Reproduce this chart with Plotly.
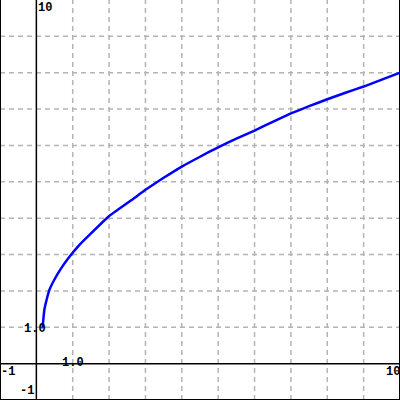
import plotly.graph_objects as go

# Values
curve_x = [0.17, 0.19, 0.22, 0.28, 0.36, 0.49, 0.68, 0.91, 1.18, 1.46, 1.98, 2.62, 3.0, 3.5, 4.0, 4.5, 5.0, 5.5, 6.0, 6.5, 7.0, 7.5, 8.0, 8.5, 9.0, 9.5, 10.0]
curve_y = [1.0, 1.2, 1.48, 1.75, 2.03, 2.30, 2.62, 2.94, 3.26, 3.54, 4.04, 4.5, 4.78, 5.11, 5.42, 5.69, 5.95, 6.19, 6.41, 6.65, 6.88, 7.08, 7.27, 7.45, 7.62, 7.81, 8.0]

x_range = [-1, 10]
y_range = [-1, 10]
grid_vals = [1, 2, 3, 4, 5, 6, 7, 8, 9]

font = dict(family="Liberation Mono", size=12, color="black")

fig = go.Figure()
fig.add_trace(go.Scatter(x=curve_x, y=curve_y, mode="lines",
                         line=dict(color="#0000ff", width=2.5, shape="spline", smoothing=0.3),
                         hoverinfo="skip"))

shapes = []
for v in grid_vals:
    shapes.append(dict(type="line", xref="x", yref="paper", x0=v, x1=v, y0=0, y1=1,
                       line=dict(color="#b4b4b4", width=1.5, dash="5px,4px"), layer="below"))
    shapes.append(dict(type="line", xref="paper", yref="y", x0=0, x1=1, y0=v, y1=v,
                       line=dict(color="#b4b4b4", width=1.5, dash="5px,4px"), layer="below"))
# axes
shapes.append(dict(type="line", xref="x", yref="paper", x0=0, x1=0, y0=0, y1=1,
                   line=dict(color="black", width=1.5), layer="below"))
shapes.append(dict(type="line", xref="paper", yref="y", x0=0, x1=1, y0=0, y1=0,
                   line=dict(color="black", width=1.5), layer="below"))
# frame (left, right, bottom)
for sx in [0, 1]:
    shapes.append(dict(type="line", xref="paper", yref="paper", x0=sx, x1=sx, y0=0, y1=1,
                       line=dict(color="black", width=2)))
shapes.append(dict(type="line", xref="paper", yref="paper", x0=0, x1=1, y0=0, y1=0,
                   line=dict(color="black", width=2)))

annotations = [
    dict(x=0, y=10, text="<b>10</b>", xanchor="left", yanchor="top", xshift=1, yshift=0),
    dict(x=-1, y=0, text="<b>-1</b>", xanchor="left", yanchor="top", xshift=0, yshift=0),
    dict(x=0, y=-1, text="<b>-1</b>", xanchor="right", yanchor="bottom", xshift=-1, yshift=1),
    dict(x=10, y=0, text="<b>10</b>", xanchor="right", yanchor="top", xshift=1, yshift=0),
    dict(x=1, y=0, text="<b>1.0</b>", xanchor="center", yanchor="middle", xshift=0, yshift=1),
    dict(x=0, y=1, text="<b>1.0</b>", xanchor="center", yanchor="middle", xshift=-1, yshift=-2),
]
for a in annotations:
    a.update(xref="x", yref="y", showarrow=False, font=font, borderpad=0)

fig.update_layout(
    width=400, height=400,
    margin=dict(l=0, r=0, t=0, b=0),
    paper_bgcolor="white", plot_bgcolor="white",
    showlegend=False,
    xaxis=dict(range=x_range, showgrid=False, zeroline=False, showticklabels=False, ticks="", fixedrange=True),
    yaxis=dict(range=y_range, showgrid=False, zeroline=False, showticklabels=False, ticks="", fixedrange=True),
    shapes=shapes,
    annotations=annotations,
)

fig.write_html("out.html", config={"displayModeBar": False},
               post_script="document.body.style.margin='0';document.body.style.overflow='hidden';")
